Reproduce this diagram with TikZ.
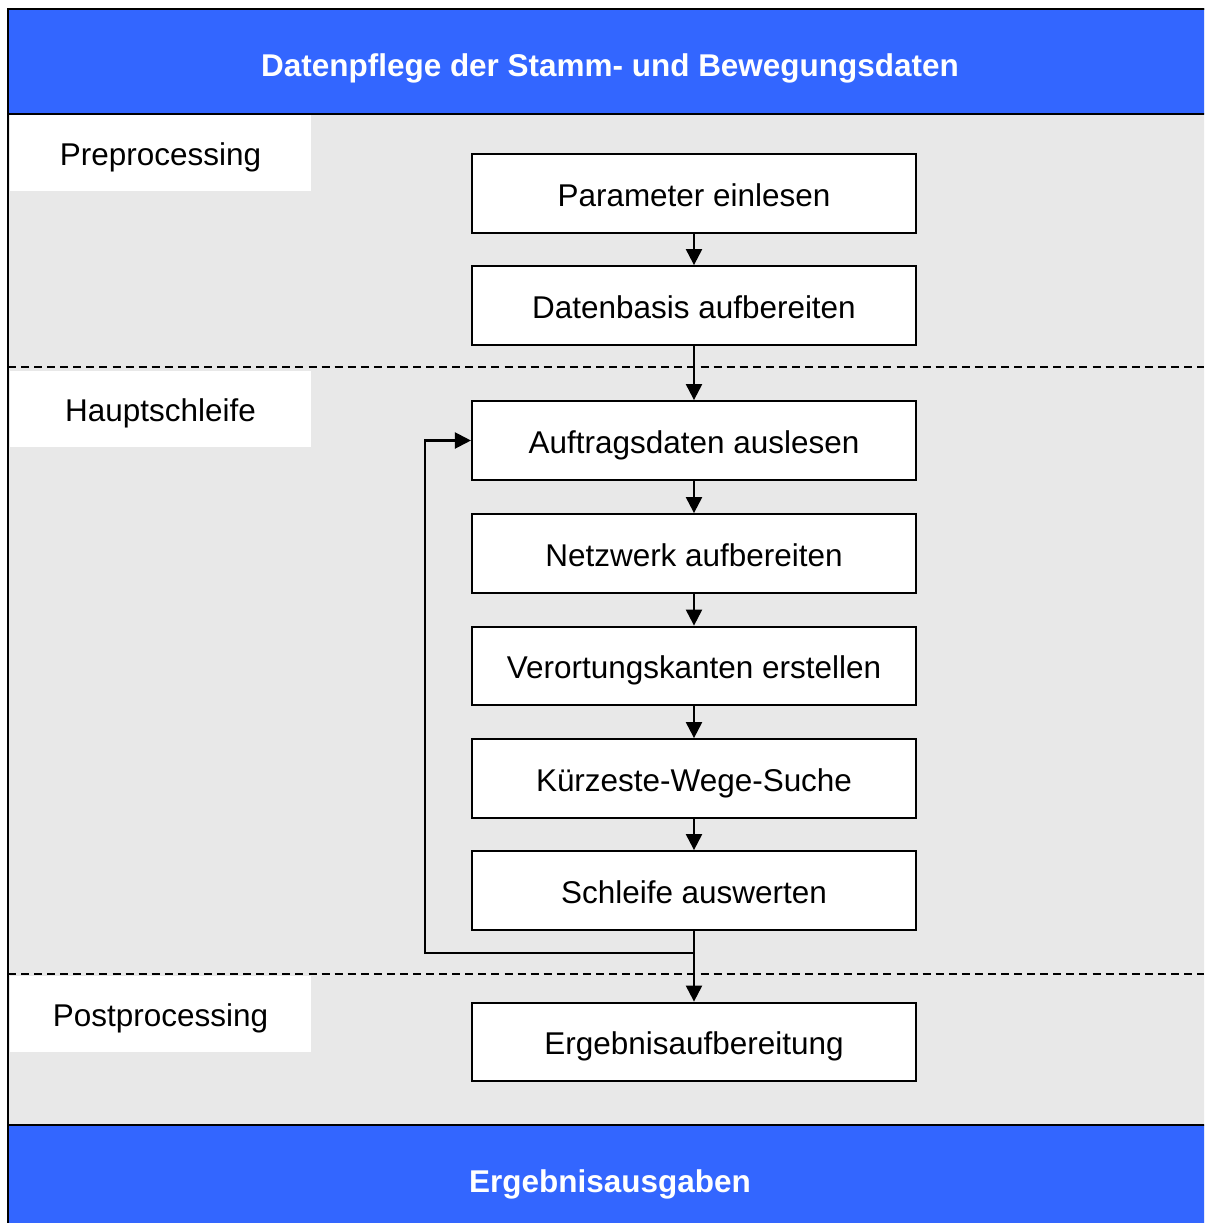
\documentclass[tikz,border=0pt]{standalone}
\usepackage{fontspec}
\setmainfont{Liberation Sans}
\usetikzlibrary{arrows.meta}
\definecolor{bandblue}{HTML}{3366FF}
\definecolor{panelgrey}{HTML}{E8E8E8}
\tikzset{
  txt/.style={font=\fontsize{23.6}{28}\selectfont, text height=20pt, text depth=1.2pt},
  stepbox/.style={draw=black, line width=1.6pt, fill=white, rectangle,
    minimum width=333pt, minimum height=59pt, inner sep=0pt, txt},
  phaselabel/.style={fill=white, rectangle, minimum width=226pt,
    minimum height=57pt, inner sep=0pt, txt},
  bandtext/.style={text=white, font=\fontsize{23.6}{28}\selectfont\bfseries,
    text height=20pt, text depth=1.2pt, inner sep=0pt},
  flow/.style={line width=1.6pt, -{Triangle[length=12pt, width=12pt]}},
  divider/.style={line width=1.1pt, dash pattern=on 6pt off 3.8pt},
}
\begin{document}
\begin{tikzpicture}[x=0.75pt, y=-0.75pt]
  \useasboundingbox (0,0) rectangle (1204,1223);
  \clip (0,0) rectangle (1204,1223);
  % panel and bands
  \draw[fill=panelgrey, line width=1.8pt] (8,9) rectangle (1240,1260);
  \draw[fill=bandblue, line width=1.8pt] (8,9) rectangle (1240,114);
  \draw[fill=bandblue, line width=1.8pt] (8,1125) rectangle (1240,1260);
  \node[bandtext] (title) at (610,64) {Datenpflege der Stamm- und Bewegungsdaten};
  \node[bandtext] (output) at (610,1180) {Ergebnisausgaben};
  % phase dividers
  \draw[divider] (8,367) -- (1204,367);
  \draw[divider] (8,974) -- (1204,974);
  % phase labels
  \node[phaselabel] (pre) at (160.5,153) {Preprocessing};
  \node[phaselabel] (main) at (160.5,409) {Hauptschleife};
  \node[phaselabel] (post) at (160.5,1013.5) {Postprocessing};
  % process steps
  \node[stepbox] (s1) at (694,193.5) {Parameter einlesen};
  \node[stepbox] (s2) at (694,305.5) {Datenbasis aufbereiten};
  \node[stepbox] (s3) at (694,440.5) {Auftragsdaten auslesen};
  \node[stepbox] (s4) at (694,553.5) {Netzwerk aufbereiten};
  \node[stepbox] (s5) at (694,666) {Verortungskanten erstellen};
  \node[stepbox] (s6) at (694,778.5) {Kürzeste-Wege-Suche};
  \node[stepbox] (s7) at (694,890.5) {Schleife auswerten};
  \node[stepbox] (s8) at (694,1042) {Ergebnisaufbereitung};
  % sequence
  \foreach \a/\b in {s1/s2, s2/s3, s3/s4, s4/s5, s5/s6, s6/s7, s7/s8}
    \draw[flow] (\a.south) -- (\b.north);
  % loop back
  \coordinate (loopturn) at (694,953);
  \coordinate (loopcorner) at (425,953);
  \draw[flow] (s7.south) -- (loopturn) -- (loopcorner) |- (s3.west);
\end{tikzpicture}
\end{document}
